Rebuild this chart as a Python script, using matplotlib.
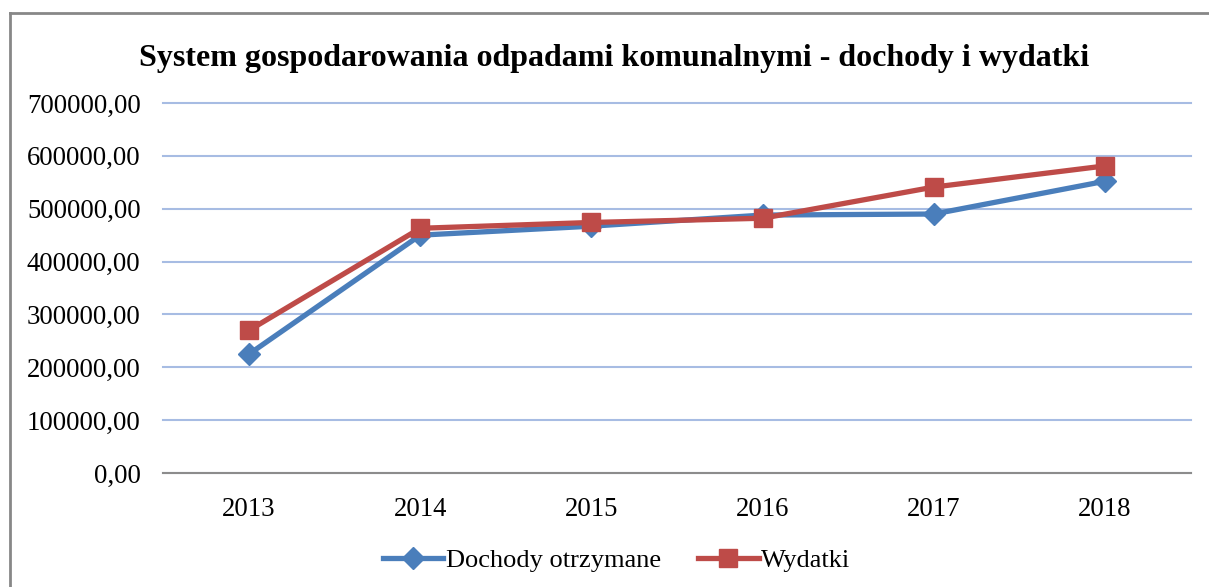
import numpy as np
import matplotlib
matplotlib.use("Agg")
import matplotlib.pyplot as plt
from matplotlib.lines import Line2D
from matplotlib.ticker import FuncFormatter

# data: municipal waste system, income vs. expenses (PLN)
years = ['2013', '2014', '2015', '2016', '2017', '2018']
dochody = [225000, 450000, 467000, 488000, 490000, 552000]
wydatki = [270000, 463000, 474000, 482000, 541000, 581000]

title = 'System gospodarowania odpadami komunalnymi - dochody i wydatki'
label_d = 'Dochody otrzymane'
label_w = 'Wydatki'

blue = '#4A7EBB'
red = '#BE4B48'
grid_col = '#A7BCE3'

plt.rcParams['font.family'] = ['Liberation Serif', 'DejaVu Serif']

fig = plt.figure(figsize=(12.09, 5.87), dpi=100)
ax = fig.add_axes([0.1352, 0.1942, 0.8496, 0.6303])

x = np.arange(len(years))
ax.plot(x, dochody, color=blue, lw=3.8, marker='D', ms=11, mec=blue, mfc=blue,
        label=label_d, solid_joinstyle='miter', zorder=3)
ax.plot(x, wydatki, color=red, lw=3.8, marker='s', ms=13, mec=red, mfc=red,
        label=label_w, solid_joinstyle='miter', zorder=4)

ax.set_xlim(-0.5, len(years) - 0.5)
ax.set_ylim(0, 700000)
ax.set_yticks(np.arange(0, 700001, 100000))
ax.yaxis.set_major_formatter(FuncFormatter(lambda v, p: f'{v:.2f}'.replace('.', ',')))
ax.set_xticks(x)
ax.set_xticklabels(years)

ax.grid(axis='y', color=grid_col, lw=1.5)
for gl in ax.get_ygridlines():
    gl.set_clip_on(False)
ax.set_axisbelow(True)
for s in ['top', 'right', 'left']:
    ax.spines[s].set_visible(False)
ax.spines['bottom'].set_color('#8C8C8C')
ax.spines['bottom'].set_linewidth(1.5)
ax.spines['bottom'].set_zorder(2)
ax.tick_params(axis='both', length=0, labelsize=19.3)
ax.tick_params(axis='y', pad=16.5)
ax.tick_params(axis='x', pad=17.5)

fig.text(0.508, 0.90, title, ha='center', va='center', fontsize=23, fontweight='bold')

handles = [Line2D([], [], color=blue, lw=3.8, marker='D', ms=11),
           Line2D([], [], color=red, lw=3.8, marker='s', ms=13)]
fig.legend(handles, [label_d, label_w], loc='center', bbox_to_anchor=(0.51, 0.045),
           ncol=2, frameon=False, fontsize=19, handlelength=2.3, handletextpad=0.1,
           columnspacing=1.4)

# outer chart border
fig.add_artist(plt.Line2D([0.0083, 0.0083], [0.0, 0.978], color='#878787', lw=2,
                          transform=fig.transFigure))
fig.add_artist(plt.Line2D([0.0083, 1.0], [0.978, 0.978], color='#878787', lw=2,
                          transform=fig.transFigure))

fig.savefig('out.png', dpi=100)
